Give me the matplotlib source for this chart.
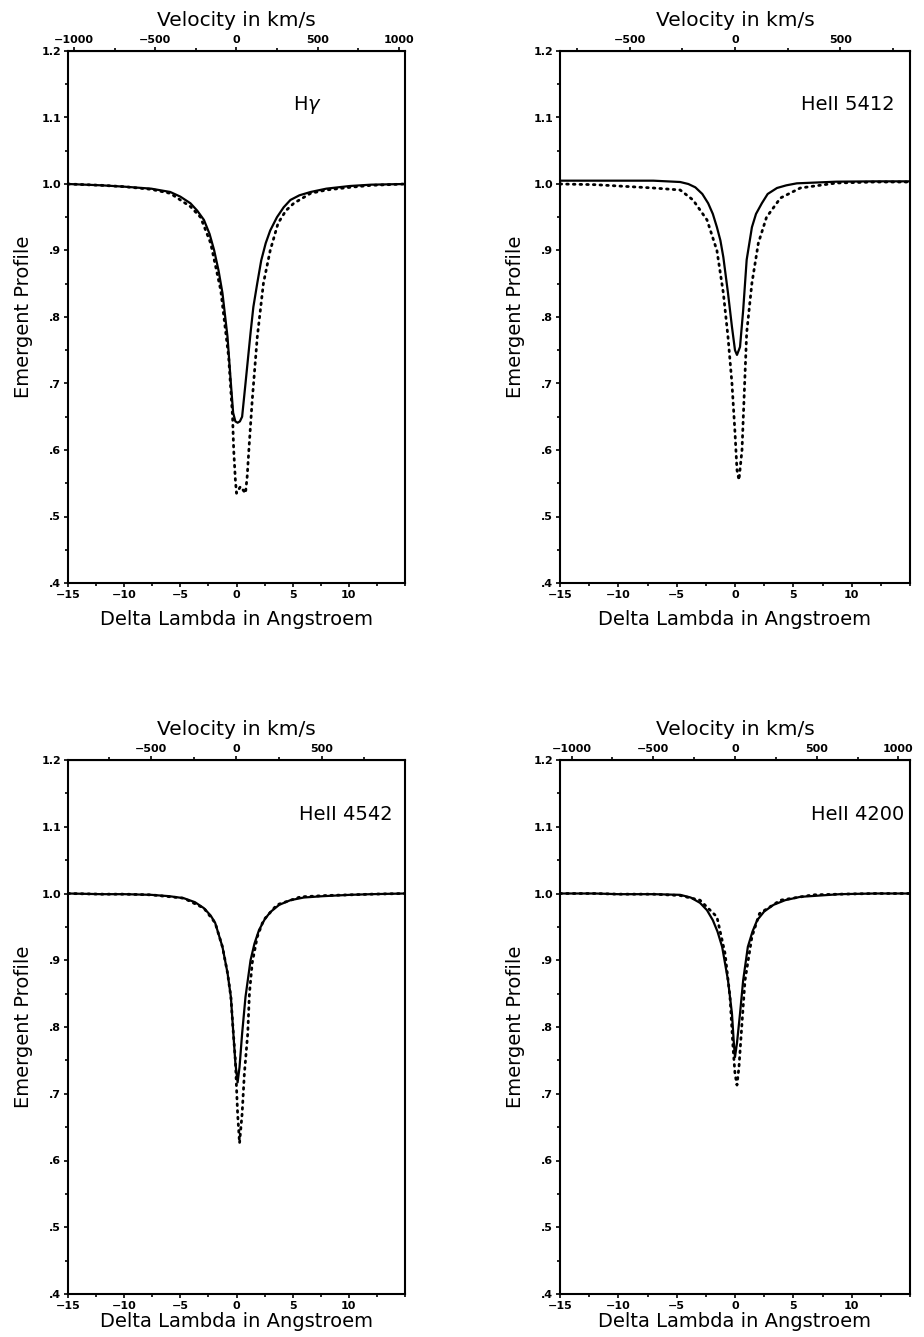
import numpy as np
import matplotlib.pyplot as plt
from matplotlib.ticker import MultipleLocator, FuncFormatter

C = 299792.458  # km/s

# ---- H gamma (4340) ----
hg_x_sol = [-15, -12, -10, -7.6, -5.9, -5.0, -4.1, -3.5, -2.9, -2.4, -2.0, -1.6, -1.25, -0.8, -0.5, -0.3, -0.1,
            0.1, 0.3, 0.5, 0.8, 1.25, 1.5, 1.85, 2.2, 2.6, 3.0, 3.6, 4.2, 4.8, 5.6, 6.6, 8.0, 10.1, 12, 15]
hg_y_sol = [1.0, 0.998, 0.996, 0.993, 0.988, 0.981, 0.971, 0.960, 0.946, 0.925, 0.901, 0.870, 0.836, 0.770, 0.700,
            0.656, 0.643, 0.641, 0.643, 0.650, 0.700, 0.776, 0.815, 0.851, 0.885, 0.911, 0.930, 0.950, 0.965, 0.976,
            0.983, 0.988, 0.993, 0.997, 0.999, 1.0]
hg_x_dot = [-15, -12, -10, -7.6, -5.9, -4.1, -3.2, -2.3, -1.4, -0.7, -0.35, -0.25, -0.1, 0.0, 0.35,
            0.8, 0.95, 1.1, 1.4, 1.85, 2.4, 3.0, 3.7, 4.4, 5.1, 6.6, 8.0, 10.1, 12, 15]
hg_y_dot = [1.0, 0.998, 0.996, 0.992, 0.986, 0.966, 0.950, 0.911, 0.840, 0.740, 0.650, 0.600, 0.555, 0.535, 0.545,
            0.535, 0.560, 0.600, 0.675, 0.770, 0.851, 0.900, 0.941, 0.960, 0.971, 0.986, 0.991, 0.995, 0.998, 1.0]

# ---- HeII 5412 ----
h1_x_sol = [-15, -12, -10, -7, -4.7, -4.0, -3.4, -2.8, -2.3, -1.9, -1.55, -1.25, -1.0, -0.6, -0.26, 0.0, 0.17,
            0.43, 0.7, 1.0, 1.45, 1.8, 2.3, 2.8, 3.6, 4.4, 5.3, 8.7, 12, 15]
h1_y_sol = [1.005, 1.005, 1.005, 1.005, 1.003, 1.0, 0.995, 0.985, 0.971, 0.955, 0.935, 0.915, 0.890, 0.836, 0.785,
            0.750, 0.743, 0.755, 0.810, 0.886, 0.935, 0.955, 0.971, 0.985, 0.994, 0.998, 1.001, 1.0035, 1.004, 1.004]
h1_x_dot = [-15, -12, -10, -7, -4.7, -3.6, -2.4, -1.55, -1.0, -0.6, -0.26, 0.0, 0.17, 0.34,
            0.6, 0.77, 1.0, 1.45, 2.0, 2.7, 3.9, 5.6, 8.7, 12, 15]
h1_y_dot = [1.0, 0.999, 0.997, 0.994, 0.991, 0.976, 0.946, 0.900, 0.836, 0.770, 0.700, 0.626, 0.570, 0.555,
            0.600, 0.675, 0.776, 0.851, 0.911, 0.950, 0.979, 0.994, 1.0015, 1.003, 1.003]

# ---- HeII 4542 ----
h2_x_sol = [-15, -12, -10, -7.6, -6.0, -4.7, -3.7, -2.9, -2.3, -1.9, -1.25, -0.8, -0.5, -0.3, -0.1, 0.1, 0.27,
            0.5, 0.8, 1.25, 1.6, 2.0, 2.5, 3.0, 3.8, 4.8, 6.0, 7.7, 10.1, 12, 15]
h2_y_sol = [1.0, 0.999, 0.999, 0.998, 0.996, 0.993, 0.987, 0.978, 0.967, 0.956, 0.920, 0.881, 0.845, 0.795, 0.746,
            0.717, 0.740, 0.790, 0.845, 0.900, 0.925, 0.945, 0.961, 0.972, 0.983, 0.990, 0.994, 0.996, 0.998, 0.999,
            1.0]
h2_x_dot = [-15, -12, -10, -7.6, -4.7, -2.9, -1.9, -1.25, -0.8, -0.5, -0.3, -0.1, 0.0, 0.1, 0.27,
            0.5, 0.7, 1.0, 1.15, 1.4, 1.85, 2.4, 3.6, 5.7, 8.0, 10.1, 12, 15]
h2_y_dot = [1.0, 0.999, 0.999, 0.998, 0.993, 0.978, 0.956, 0.920, 0.881, 0.845, 0.795, 0.750, 0.710, 0.670, 0.626,
            0.670, 0.730, 0.790, 0.850, 0.896, 0.935, 0.960, 0.983, 0.995, 0.997, 0.998, 0.999, 1.0]

# ---- HeII 4200 ----
h3_x_sol = [-15, -12, -10, -7, -4.7, -3.8, -3.0, -2.4, -1.9, -1.5, -1.1, -0.6, -0.26, -0.1, 0.0, 0.17, 0.43,
            0.7, 1.1, 1.5, 1.9, 2.5, 3.3, 4.3, 5.6, 9.0, 12, 15]
h3_y_sol = [1.0, 1.0, 0.999, 0.999, 0.998, 0.994, 0.986, 0.975, 0.960, 0.943, 0.920, 0.870, 0.820, 0.776, 0.755,
            0.776, 0.820, 0.870, 0.920, 0.943, 0.960, 0.973, 0.983, 0.990, 0.995, 0.999, 1.0, 1.0]
h3_x_dot = [-15, -12, -10, -7, -4.7, -3.0, -1.55, -0.85, -0.43, -0.17, 0.0, 0.17, 0.34,
            0.6, 0.86, 1.45, 2.1, 3.9, 6.7, 9.0, 12, 15]
h3_y_dot = [1.0, 1.0, 0.999, 0.999, 0.997, 0.990, 0.965, 0.910, 0.845, 0.770, 0.730, 0.713, 0.740,
            0.806, 0.870, 0.935, 0.970, 0.990, 0.998, 0.999, 1.0, 1.0]

panels = [
    dict(name=r'H$\gamma$', lam=4340.0, xs=hg_x_sol, ys=hg_y_sol, xd=hg_x_dot, yd=hg_y_dot,
         pos=[68/924, 1-583/1337, 337/924, 532/1337], tx=5.0, ha='left', lp=7),
    dict(name='HeII 5412', lam=5412.0, xs=h1_x_sol, ys=h1_y_sol, xd=h1_x_dot, yd=h1_y_dot,
         pos=[560/924, 1-583/1337, 350/924, 532/1337], tx=13.7, ha='right', lp=7),
    dict(name='HeII 4542', lam=4542.0, xs=h2_x_sol, ys=h2_y_sol, xd=h2_x_dot, yd=h2_y_dot,
         pos=[68/924, 1-1294/1337, 337/924, 534/1337], tx=13.9, ha='right', lp=1),
    dict(name='HeII 4200', lam=4200.0, xs=h3_x_sol, ys=h3_y_sol, xd=h3_x_dot, yd=h3_y_dot,
         pos=[560/924, 1-1294/1337, 350/924, 534/1337], tx=14.5, ha='right', lp=1),
]

fig = plt.figure(figsize=(9.24, 13.37), dpi=100)


def yfmt(v, pos):
    s = '%.1f' % v
    return s[1:] if s.startswith('0') else s


for p in panels:
    ax = fig.add_axes(p['pos'])
    ax.plot(p['xs'], p['ys'], color='black', lw=1.6, solid_joinstyle='round')
    ax.plot(p['xd'], p['yd'], color='black', lw=2.0, linestyle=(0, (0.6, 1.8)),
            dash_capstyle='round')
    ax.set_xlim(-15, 15)
    ax.set_ylim(0.4, 1.2)
    ax.set_xticks([-15, -10, -5, 0, 5, 10])
    ax.xaxis.set_minor_locator(MultipleLocator(2.5))
    ax.yaxis.set_major_locator(MultipleLocator(0.1))
    ax.yaxis.set_minor_locator(MultipleLocator(0.05))
    ax.yaxis.set_major_formatter(FuncFormatter(yfmt))
    ax.tick_params(which='both', direction='out', length=3, width=1.2, pad=2)
    ax.tick_params(which='minor', length=2)
    for lab in ax.get_xticklabels() + ax.get_yticklabels():
        lab.set_fontsize(8)
        lab.set_fontweight('bold')
    for sp in ax.spines.values():
        sp.set_linewidth(1.5)
    ax.set_xlabel('Delta Lambda in Angstroem', fontsize=14, labelpad=p['lp'])
    ax.set_ylabel('Emergent Profile', fontsize=14, labelpad=6)
    ax.text(p['tx'], 1.119, p['name'], fontsize=14, ha=p['ha'], va='center')

    lam = p['lam']
    sec = ax.secondary_xaxis('top', functions=(lambda x, l=lam: x / l * C,
                                               lambda v, l=lam: v * l / C))
    vmax = 15.0 / lam * C
    major = [v for v in [-1000, -500, 0, 500, 1000] if abs(v) <= vmax]
    sec.set_xticks(major)
    sec.xaxis.set_minor_locator(MultipleLocator(250))
    sec.tick_params(which='both', direction='out', length=3, width=1.2, pad=1)
    sec.tick_params(which='minor', length=2)
    for lab in sec.get_xticklabels():
        lab.set_fontsize(8)
        lab.set_fontweight('bold')
    sec.set_xlabel('Velocity in km/s', fontsize=14.5, labelpad=7)

fig.savefig('out.png', dpi=100)
